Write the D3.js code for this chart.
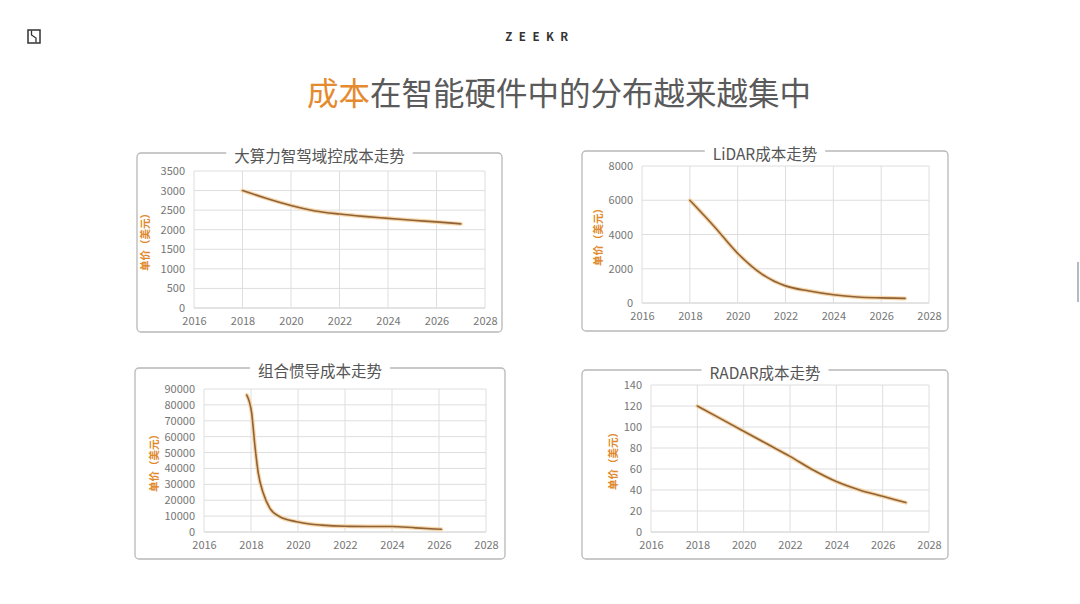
<!DOCTYPE html>
<html>
<head>
<meta charset="utf-8">
<script src="https://cdn.jsdelivr.net/npm/d3@7"></script>
<style>
  body { margin: 0; background: #fff; }
  svg { display: block; }
  text { font-family: "Noto Sans CJK SC", "Noto Sans", sans-serif; }
</style>
</head>
<body>
<svg id="slide"></svg>
<script>
// values
const years = [2018, 2019, 2020, 2021, 2022, 2023, 2024, 2025, 2026, 2027]
const domainCost = [3000, 2800, 2620, 2480, 2400, 2340, 2290, 2240, 2200, 2150]
const lidarCost = [6000, 4500, 2900, 1700, 1000, 700, 480, 350, 300, 270]
const imuYears = [2017.82, 2018.03, 2018.17, 2018.31, 2018.52, 2018.8, 2019.23, 2019.94, 2020.5, 2021, 2022, 2023, 2024, 2025, 2026.1]
const imuCost = [86200, 74700, 53700, 37000, 24500, 15000, 9600, 6500, 5000, 4300, 3600, 3500, 3500, 2600, 1700]
const radarCost = [120, 108, 96, 84, 72, 59, 48, 40, 34, 28]

const xTicks = [2016, 2018, 2020, 2022, 2024, 2026, 2028]
const domainTicks = [0, 500, 1000, 1500, 2000, 2500, 3000, 3500]
const lidarTicks = [0, 2000, 4000, 6000, 8000]
const imuTicks = [0, 10000, 20000, 30000, 40000, 50000, 60000, 70000, 80000, 90000]
const radarTicks = [0, 20, 40, 60, 80, 100, 120, 140]

const titles = ['大算力智驾域控成本走势', 'LiDAR成本走势', '组合惯导成本走势', 'RADAR成本走势']
const yLabel = '单价（美元）'

let width = 1080
let height = 604

let svg = d3.select('#slide')
    .attr('width', width)
    .attr('height', height)

// panel layout (boxes and plot areas)
const panels = [
    { title: titles[0], xs: years, ys: domainCost, ticks: domainTicks,
      box: [137, 153, 365, 179], plot: [194, 485, 171, 308], labelX: 144 },
    { title: titles[1], xs: years, ys: lidarCost, ticks: lidarTicks,
      box: [582, 151, 366, 180], plot: [642, 929, 166, 303], labelX: 597 },
    { title: titles[2], xs: imuYears, ys: imuCost, ticks: imuTicks,
      box: [135, 368, 370, 191], plot: [204, 486, 389, 532], labelX: 153 },
    { title: titles[3], xs: years, ys: radarCost, ticks: radarTicks,
      box: [582, 370, 366, 189], plot: [651, 929, 385, 532], labelX: 612 }
]

// header: logo, brand, headline
const drawHeader = () => {
    let logo = svg.append('g').attr('transform', 'translate(28, 30)')
    logo.append('rect').attr('width', 12).attr('height', 13)
        .attr('fill', 'none').attr('stroke', '#333').attr('stroke-width', 1.5)
    logo.append('path').attr('d', 'M3.5,0.5 L3.5,5 L8,8 L8,12.5')
        .attr('fill', 'none').attr('stroke', '#333').attr('stroke-width', 1.3)

    svg.append('text')
        .attr('x', 540).attr('y', 41)
        .attr('text-anchor', 'middle')
        .attr('font-size', 11.5).attr('font-weight', 700)
        .attr('letter-spacing', 6.5)
        .attr('fill', '#333')
        .text('ZEEKR')

    let head = svg.append('text')
        .attr('x', 559).attr('y', 105)
        .attr('text-anchor', 'middle')
        .attr('font-size', 31.5)
        .attr('fill', '#5a5a5a')
    head.append('tspan').attr('fill', '#e58a2e').text('成本')
    head.append('tspan').text('在智能硬件中的分布越来越集中')

    // faint edge mark on the right
    svg.append('line')
        .attr('x1', 1078).attr('x2', 1078).attr('y1', 262).attr('y2', 302)
        .attr('stroke', '#9aa3b0').attr('stroke-width', 1.5)
}

const drawPanel = (p) => {
    let g = svg.append('g')
    let [bx, by, bw, bh] = p.box
    let [l, r, t, b] = p.plot

    g.append('rect')
        .attr('x', bx).attr('y', by).attr('width', bw).attr('height', bh)
        .attr('rx', 4)
        .attr('fill', '#fff').attr('stroke', '#b8b8b8').attr('stroke-width', 1.3)

    let xScale = d3.scaleLinear().domain([2016, 2028]).range([l, r])
    let yScale = d3.scaleLinear().domain([0, d3.max(p.ticks)]).range([b, t])

    // grid
    g.append('g')
        .selectAll('line')
        .data(p.ticks)
        .enter()
        .append('line')
        .attr('x1', l).attr('x2', r)
        .attr('y1', d => yScale(d)).attr('y2', d => yScale(d))
        .attr('stroke', d => d == 0 ? '#c8c8c8' : '#dedede')
    g.append('g')
        .selectAll('line')
        .data(xTicks)
        .enter()
        .append('line')
        .attr('x1', d => xScale(d)).attr('x2', d => xScale(d))
        .attr('y1', t).attr('y2', b)
        .attr('stroke', '#dedede')

    // axes (labels only, grid drawn above)
    let xAxis = d3.axisBottom(xScale)
        .tickValues(xTicks)
        .tickFormat(d3.format('d'))
        .tickSize(0)
        .tickPadding(9)
    g.append('g')
        .attr('transform', `translate(0, ${b})`)
        .call(xAxis)
        .call(a => a.select('.domain').remove())

    let yAxis = d3.axisLeft(yScale)
        .tickValues(p.ticks)
        .tickFormat(d3.format('d'))
        .tickSize(0)
        .tickPadding(9)
    g.append('g')
        .attr('transform', `translate(${l}, 0)`)
        .call(yAxis)
        .call(a => a.select('.domain').remove())

    g.selectAll('.tick text')
        .attr('font-family', '"Noto Sans CJK SC", sans-serif')
        .attr('font-size', 11)
        .attr('fill', '#767676')

    // y axis title
    g.append('text')
        .attr('transform', `translate(${p.labelX}, ${(t + b) / 2}) rotate(-90)`)
        .attr('text-anchor', 'middle')
        .attr('dominant-baseline', 'central')
        .attr('font-size', 10.5).attr('font-weight', 700)
        .attr('fill', '#e0892c')
        .text(yLabel)

    // line
    let pts = p.xs.map((x, i) => [x, p.ys[i]])
    let line = d3.line()
        .x(d => xScale(d[0]))
        .y(d => yScale(d[1]))
        .curve(d3.curveMonotoneX)
    g.append('path').datum(pts)
        .attr('d', line)
        .attr('fill', 'none').attr('stroke', '#f7d6aa').attr('stroke-width', 4)
        .attr('stroke-linecap', 'round')
    g.append('path').datum(pts)
        .attr('d', line)
        .attr('fill', 'none').attr('stroke', '#8f6338').attr('stroke-width', 1.6)
        .attr('stroke-linecap', 'round')

    // panel title on the frame
    let tt = g.append('text')
        .attr('x', bx + bw / 2).attr('y', by + 9)
        .attr('text-anchor', 'middle')
        .attr('font-size', 15.5)
        .attr('fill', '#555')
        .text(p.title)
    let bb = tt.node().getBBox()
    g.insert('rect', () => tt.node())
        .attr('x', bb.x - 8).attr('y', by - 3)
        .attr('width', bb.width + 16).attr('height', 6)
        .attr('fill', '#fff')
}

drawHeader()
panels.forEach(drawPanel)
</script>
</body>
</html>
